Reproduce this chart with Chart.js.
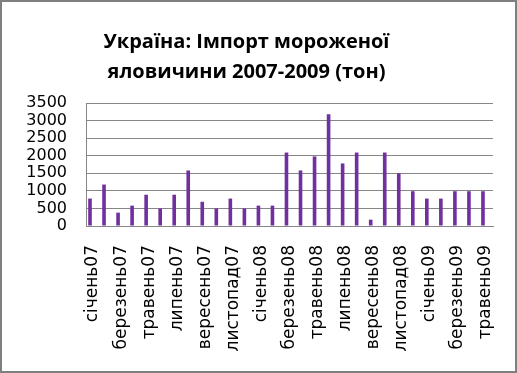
<!DOCTYPE html>
<html>
<head>
<meta charset="utf-8">
<script src="https://cdn.jsdelivr.net/npm/chart.js@4/dist/chart.umd.min.js"></script>
<style>
  body { margin: 0; background: #fff; }
  .frame {
    position: absolute; left: 0; top: 0;
    width: 517px; height: 373px;
    border: 2px solid #7f7f7f; box-sizing: border-box;
  }
  #chart { position: absolute; left: 0; top: 0; }
</style>
</head>
<body>
<div class="frame"></div>
<canvas id="chart" width="495" height="373"></canvas>
<script>
// data (тонн)
const months = [
  "січень07", "лютий07", "березень07", "квітень07", "травень07", "червень07",
  "липень07", "серпень07", "вересень07", "жовтень07", "листопад07", "грудень07",
  "січень08", "лютий08", "березень08", "квітень08", "травень08", "червень08",
  "липень08", "серпень08", "вересень08", "жовтень08", "листопад08", "грудень08",
  "січень09", "лютий09", "березень09", "квітень09", "травень09",
];
const importTons = [
  780, 1180, 380, 580, 890, 500, 890, 1580, 690, 500, 780, 500,
  580, 580, 2090, 1580, 1980, 3180, 1780, 2090, 180, 2090, 1500, 990,
  780, 780, 990, 990, 990,
];
const yMax = 3500;
const yStep = 500;
const titleLines = ["Україна: Імпорт мороженої", "яловичини 2007-2009 (тон)"];

const gridColor = "#868686";

// 1) setup
const bar_data = {
  labels: months,
  datasets: [
    {
      label: "Імпорт",
      data: importTons,
      backgroundColor: "#7030a0",
      barPercentage: 0.6,
      categoryPercentage: 0.86,
    },
    {
      // empty second series in the original sheet, keeps bars left of centre
      label: "",
      data: [],
      backgroundColor: "#7030a0",
      barPercentage: 0.6,
      categoryPercentage: 0.86,
    },
  ],
};

// 2) config
const bar_config = {
  type: "bar",
  data: bar_data,
  options: {
    responsive: false,
    animation: false,
    layout: { padding: { left: 0, right: 2, top: 0, bottom: 0 } },
    scales: {
      x: {
        grid: { display: false, drawTicks: false },
        border: { color: gridColor },
        ticks: {
          autoSkip: false,
          maxRotation: 90,
          minRotation: 90,
          padding: 19,
          color: "#000",
          font: { family: "DejaVu Sans", size: 17 },
          callback: (val, i) => (i % 2 === 0 ? months[i] : ""),
        },
        afterFit: (scale) => {
          scale.height = 147;
          scale.paddingLeft = 0;
          scale.paddingRight = 0;
        },
      },
      y: {
        min: 0,
        max: yMax,
        grid: { color: gridColor, drawTicks: false },
        border: { color: gridColor },
        ticks: {
          stepSize: yStep,
          autoSkip: false,
          padding: 19,
          color: "#000",
          font: { family: "DejaVu Sans", size: 16 },
          callback: (val) => String(val),
        },
        afterFit: (scale) => {
          scale.width = 86;
          scale.paddingTop = 0;
          scale.paddingBottom = 0;
        },
      },
    },
    plugins: {
      legend: { display: false },
      tooltip: { enabled: false },
      title: {
        display: true,
        text: titleLines,
        color: "#000",
        font: { family: "Open Sans", size: 20, weight: "bold", lineHeight: 1.5 },
        padding: { top: 27, bottom: 16 },
      },
    },
  },
};

// 3) render chart
const bar_ctx = document.getElementById("chart").getContext("2d");
const importChart = new Chart(bar_ctx, bar_config);
</script>
</body>
</html>
